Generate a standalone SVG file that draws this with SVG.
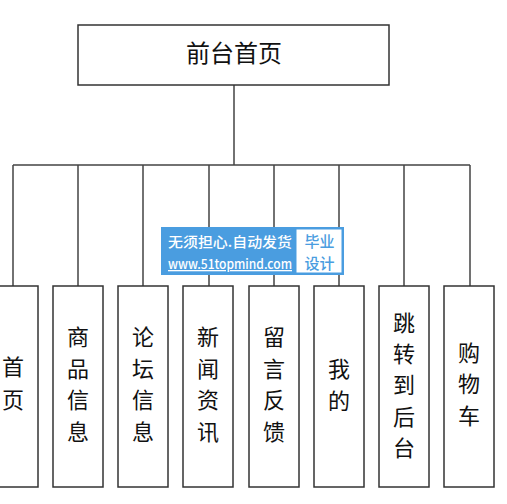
<svg xmlns="http://www.w3.org/2000/svg" width="507" height="504" viewBox="0 0 507 504">
<style>
.box{fill:#fff;stroke:#333;stroke-width:1.5}
.ln{stroke:#444;stroke-width:1.5;fill:none}
.t{font-family:"Noto Sans CJK SC","Noto Sans",sans-serif;font-size:22px;fill:#111;text-anchor:middle}
.wm{font-family:"Noto Sans CJK SC","Open Sans",sans-serif;fill:#fff;font-weight:500}
.wb{font-family:"Noto Sans CJK SC",sans-serif;font-size:15px;fill:#4a9de0;text-anchor:middle;font-weight:500}
</style>
<rect width="507" height="504" fill="#fff"/>
<g id="connectors">
<path class="ln" d="M234 85V165M13 165H470M13 165V286M78 165V286M143 165V286M209 165V286M274 165V286M339 165V286M404 165V286M470 165V286"/>
</g>
<g id="root"><rect class="box" x="78" y="25" width="311" height="60"/><text class="t" x="234" y="62" style="font-size:24px">前台首页</text></g>
<g id="n1"><rect class="box" x="-12" y="286" width="50" height="201"/><text class="t" x="13"><tspan x="13" y="375">首</tspan><tspan x="13" y="408">页</tspan></text></g>
<g id="n2"><rect class="box" x="53" y="286" width="50" height="201"/><text class="t"><tspan x="78" y="345">商</tspan><tspan x="78" y="376.5">品</tspan><tspan x="78" y="408">信</tspan><tspan x="78" y="439.5">息</tspan></text></g>
<g id="n3"><rect class="box" x="118" y="286" width="50" height="201"/><text class="t"><tspan x="143" y="345">论</tspan><tspan x="143" y="376.5">坛</tspan><tspan x="143" y="408">信</tspan><tspan x="143" y="439.5">息</tspan></text></g>
<g id="n4"><rect class="box" x="183" y="286" width="50" height="201"/><text class="t"><tspan x="208" y="345">新</tspan><tspan x="208" y="376.5">闻</tspan><tspan x="208" y="408">资</tspan><tspan x="208" y="439.5">讯</tspan></text></g>
<g id="n5"><rect class="box" x="249" y="286" width="50" height="201"/><text class="t"><tspan x="274" y="345">留</tspan><tspan x="274" y="376.5">言</tspan><tspan x="274" y="408">反</tspan><tspan x="274" y="439.5">馈</tspan></text></g>
<g id="n6"><rect class="box" x="314" y="286" width="50" height="201"/><text class="t"><tspan x="339" y="377">我</tspan><tspan x="339" y="409">的</tspan></text></g>
<g id="n7"><rect class="box" x="379" y="286" width="50" height="201"/><text class="t"><tspan x="404" y="330.5">跳</tspan><tspan x="404" y="361.5">转</tspan><tspan x="404" y="393">到</tspan><tspan x="404" y="424.5">后</tspan><tspan x="404" y="455.5">台</tspan></text></g>
<g id="n8"><rect class="box" x="444" y="286" width="50" height="201"/><text class="t"><tspan x="469" y="360.5">购</tspan><tspan x="469" y="392">物</tspan><tspan x="469" y="424">车</tspan></text></g>
<g id="watermark">
<rect x="161" y="227" width="183" height="48" fill="#4a9de0"/>
<rect x="296.5" y="229.5" width="45" height="43" fill="#fff"/>
<text class="wm" x="168" y="247" font-size="14" textLength="124" lengthAdjust="spacingAndGlyphs">无须担心.自动发货</text>
<text class="wm" x="168" y="269" font-size="13" textLength="124" lengthAdjust="spacingAndGlyphs" text-decoration="underline">www.51topmind.com</text>
<text class="wb" x="319.5" y="247">毕业</text>
<text class="wb" x="319.5" y="269">设计</text>
</g>
</svg>
